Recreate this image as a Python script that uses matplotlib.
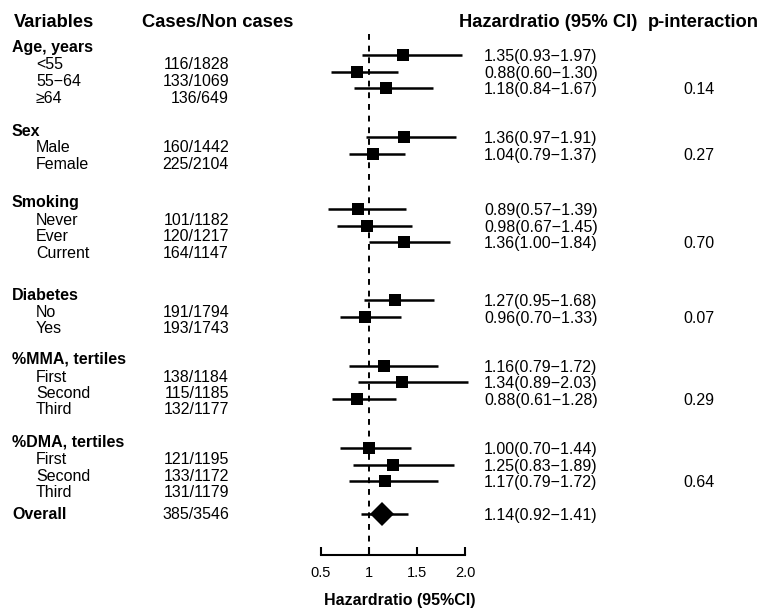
import matplotlib.pyplot as plt

plt.rcParams['font.family'] = ['Liberation Sans', 'DejaVu Sans']

# ---- data ----
groups = ['Age, years', 'Sex', 'Smoking', 'Diabetes', '%MMA, tertiles', '%DMA, tertiles']
subgroups = [['<55', '55\u221264', '\u226564'],
             ['Male', 'Female'],
             ['Never', 'Ever', 'Current'],
             ['No', 'Yes'],
             ['First', 'Second', 'Third'],
             ['First', 'Second', 'Third']]
cases = [['116/1828', '133/1069', '136/649'],
         ['160/1442', '225/2104'],
         ['101/1182', '120/1217', '164/1147'],
         ['191/1794', '193/1743'],
         ['138/1184', '115/1185', '132/1177'],
         ['121/1195', '133/1172', '131/1179']]
hr = [[1.35, 0.88, 1.18], [1.36, 1.04], [0.89, 0.98, 1.36],
      [1.27, 0.96], [1.16, 1.34, 0.88], [1.00, 1.25, 1.17]]
lo = [[0.93, 0.60, 0.84], [0.97, 0.79], [0.57, 0.67, 1.00],
      [0.95, 0.70], [0.79, 0.89, 0.61], [0.70, 0.83, 0.79]]
hi = [[1.97, 1.30, 1.67], [1.91, 1.37], [1.39, 1.45, 1.84],
      [1.68, 1.33], [1.72, 2.03, 1.28], [1.44, 1.89, 1.72]]
p_interaction = ['0.14', '0.27', '0.70', '0.07', '0.29', '0.64']
overall_cases = '385/3546'
overall_hr, overall_lo, overall_hi = 1.14, 0.92, 1.41

xticks = [0.5, 1, 1.5, 2.0]
xtick_labels = ['0.5', '1', '1.5', '2.0']

# ---- layout (pixel rows, from the top of the figure) ----
W, H = 773, 614
head_y = [46, 130, 201, 294, 358, 441]
label_y = [[63, 80, 97], [146, 163], [219, 235, 252], [311, 327],
           [376, 392, 408], [458, 475, 491]]
row_y = [[55, 72, 88], [137, 154], [209, 226, 242], [300, 317],
         [366, 382, 399], [448, 465, 481]]
overall_label_y = 513
overall_row_y = 514

fig = plt.figure(figsize=(W / 100, H / 100), dpi=100)

# text layer in pixel coordinates
bg = fig.add_axes([0, 0, 1, 1])
bg.set_xlim(0, W)
bg.set_ylim(H, 0)
bg.axis('off')

fs = 11.5
cap = fs * 100 / 72 * 0.716 / 2
hcap = 13.2 * 100 / 72 * 0.716 / 2

bg.text(14, 20 + hcap, 'Variables', fontsize=13.2, fontweight='bold', va='baseline')
bg.text(142, 20 + hcap, 'Cases/Non cases', fontsize=13.2, fontweight='bold', va='baseline')
bg.text(459, 20 + hcap, 'Hazardratio (95% CI)', fontsize=13.2, fontweight='bold', va='baseline')
bg.text(648, 20 + hcap, 'p-interaction', fontsize=13.2, fontweight='bold', va='baseline')

for g, name in enumerate(groups):
    bg.text(12, head_y[g] + cap, name, fontsize=fs, fontweight='bold', va='baseline')
    for i, sub in enumerate(subgroups[g]):
        bg.text(36, label_y[g][i] + cap, sub, fontsize=fs, va='baseline')
        bg.text(229, label_y[g][i] + cap, cases[g][i], fontsize=fs, va='baseline', ha='right')
        txt = f'{hr[g][i]:.2f}({lo[g][i]:.2f}\u2212{hi[g][i]:.2f})'
        bg.text(484, row_y[g][i] + cap, txt, fontsize=fs, va='baseline')
    bg.text(699, row_y[g][-1] + cap, p_interaction[g], fontsize=fs, va='baseline', ha='center')

bg.text(12, overall_label_y + cap, 'Overall', fontsize=fs, fontweight='bold', va='baseline')
bg.text(229, overall_label_y + cap, overall_cases, fontsize=fs, va='baseline', ha='right')
bg.text(484, overall_row_y + cap,
        f'{overall_hr:.2f}({overall_lo:.2f}\u2212{overall_hi:.2f})', fontsize=fs, va='baseline')

# forest panel: x in hazard ratio, y in the same pixel rows
x0, x1 = 321, 465
y_top, y_axis = 30, 555
ax = fig.add_axes([x0 / W, (H - y_axis) / H, (x1 - x0) / W, (y_axis - y_top) / H])
ax.set_xlim(0.5, 2.0)
ax.set_ylim(y_axis, y_top)
ax.patch.set_alpha(0)
for s in ['top', 'left', 'right']:
    ax.spines[s].set_visible(False)
ax.spines['bottom'].set_linewidth(1.5)
ax.set_yticks([])
ax.set_xticks(xticks)
ax.set_xticklabels(xtick_labels)
ax.tick_params(axis='x', direction='in', length=6, width=1.5, pad=8, labelsize=10.5)

ax.vlines(1, 34, y_axis, colors='black', linestyles=(0, (3, 3)), linewidth=1.4)

for g in range(len(groups)):
    for i in range(len(hr[g])):
        y = row_y[g][i]
        ax.plot([lo[g][i], hi[g][i]], [y, y], color='black', linewidth=1.8,
                solid_capstyle='butt', clip_on=False)
        ax.plot(hr[g][i], y, marker='s', markersize=8.6, color='black',
                markeredgewidth=0, clip_on=False)

ax.plot([overall_lo, overall_hi], [overall_row_y, overall_row_y], color='black',
        linewidth=1.8, solid_capstyle='butt')
ax.plot(overall_hr, overall_row_y, marker='D', markersize=12, color='black',
        markeredgewidth=0)

ax.set_xlabel('Hazardratio (95%CI)', fontsize=11.5, fontweight='bold')
ax.xaxis.set_label_coords((400 - x0) / (x1 - x0), -(593 - y_axis) / (y_axis - y_top))

fig.savefig('out.png', dpi=100)
